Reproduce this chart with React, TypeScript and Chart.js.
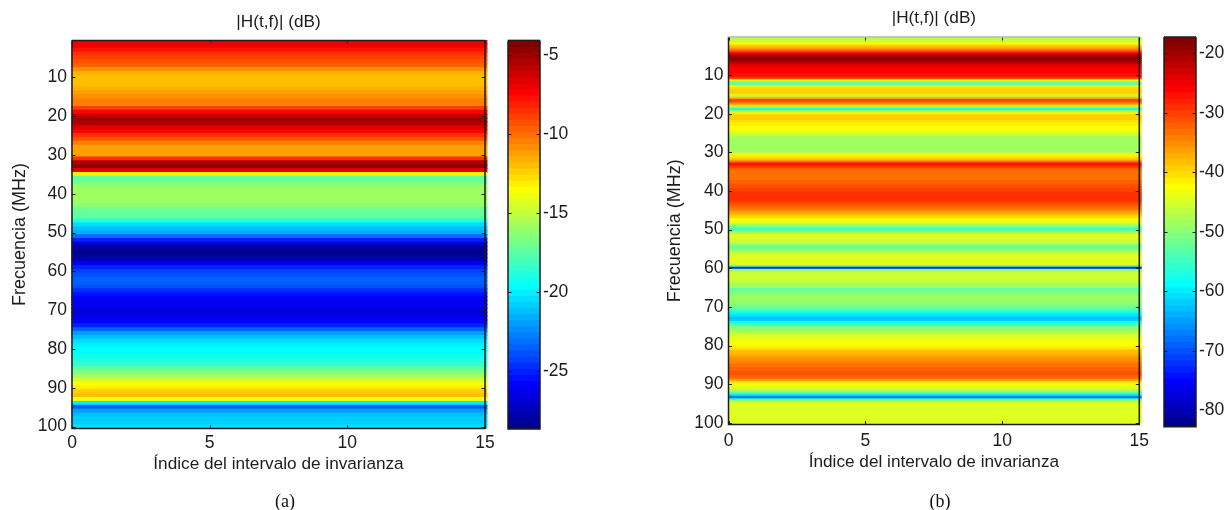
import React, { useEffect, useRef } from "react";
import { Chart, registerables } from "chart.js";

Chart.register(...registerables);

const TITLE = "|H(t,f)| (dB)";
const X_LABEL = "Índice del intervalo de invarianza";
const Y_LABEL = "Frecuencia (MHz)";
const FREQ_TICKS = [10, 20, 30, 40, 50, 60, 70, 80, 90, 100];
const TIME_TICKS = [0, 5, 10, 15];
const BAR_TICKS_A = [-25, -20, -15, -10, -5];
const BAR_TICKS_B = [-80, -70, -60, -50, -40, -30, -20];
const RANGE_A: [number, number] = [-28.67, -4.05];
const RANGE_B: [number, number] = [-82.7, -17.3];
const TIME_END = 15.07;

// panel (a): level in dB at 1, 2, ... 100 MHz
const levelsA = [
  -7, -7, -7.8, -8.6, -9, -9.3, -9.8, -10.6, -11.4, -12,
  -12.1, -11.9, -11.4, -11, -10.7, -10.5, -10.3, -9, -7.3, -5.8,
  -5.2, -5.4, -6.6, -7.5, -8.3, -9.4, -10.4, -11, -11, -11,
  -8.5, -5.5, -4.8, -6.5, -13, -17.5, -17, -16.3, -15.8, -15.6,
  -15.6, -15.8, -16.3, -16.9, -17.2, -17.5, -18.8, -20.5, -21, -21.7,
  -23, -25, -27, -28, -28.3, -28.2, -27.6, -26, -25, -24.2,
  -23.7, -23.4, -23.5, -23.9, -24.7, -25.3, -25.8, -26, -26.2, -26.4,
  -26.4, -26.2, -25.8, -25, -23.3, -22, -21, -20.4, -20, -19.7,
  -19.5, -19.3, -19, -18.4, -17.5, -16.5, -15.6, -14.6, -13.6, -13,
  -12.4, -12, -14, -20, -23.5, -22, -21, -20.7, -20.6, -20.5,
];

// panel (b): level in dB at 0.5, 1, 1.5, ... 100 MHz
const levelsB = [
  -47, -46, -44, -42, -39, -37, -34, -30, -26, -21,
  -19, -18.5, -19.5, -22, -24, -25, -25.5, -26, -26, -26.5,
  -27, -31, -42, -53, -52, -43, -40, -39, -39, -40,
  -46, -38, -30, -31, -35, -40, -50, -58, -47, -41,
  -39, -39, -39.5, -40, -41, -41.5, -42, -42.5, -43, -44,
  -45, -47, -48, -48, -48, -48, -48, -48, -48, -48,
  -43, -41, -40, -38, -33, -27, -28, -30, -32, -33,
  -33.5, -33.5, -33, -33, -32.5, -32, -31.5, -31, -30.5, -30,
  -29.5, -29.2, -29, -29.2, -29.5, -30, -31, -32, -33, -34,
  -36, -37.5, -39, -40, -42, -43, -45, -48, -52, -56,
  -52, -47, -44, -44, -44, -45, -46, -49, -53, -52,
  -48, -46, -45, -44.5, -44, -44, -44, -44.5, -53, -73,
  -50, -46, -45.5, -45, -45, -45.5, -46, -47, -48, -48.5,
  -53, -52, -50.5, -49, -48, -48.5, -49, -50, -51, -52,
  -53, -55, -58, -60, -61, -62.5, -62, -58, -55, -52,
  -50, -49, -47.5, -46, -44.5, -44, -43.5, -43, -42.5, -42,
  -41, -40, -38.5, -38, -37, -36, -35.5, -35, -34, -33.5,
  -33, -32.5, -32, -31.5, -31.5, -32, -33, -36, -40, -42,
  -43, -44, -46, -50, -56, -62, -68, -56, -47, -44,
  -44, -44, -44, -44, -44, -44, -44, -44, -44, -44,
];

const CANVAS_H = 510;
const INK = "#1c1c1c";
const FONT = "'Liberation Sans', Arial, sans-serif";
const TICK_SIZE = 17.5;
const LABEL_SIZE = 17.2;

// MATLAB jet(64) colour table
const JET: string[] = (() => {
  const ch = [new Array(64).fill(0), new Array(64).fill(0), new Array(64).fill(0)];
  for (let k = 1; k <= 47; k++) {
    const u = k <= 16 ? k / 16 : k <= 31 ? 1 : (48 - k) / 16;
    [24 + k, 8 + k, k - 8].forEach((idx, c) => {
      if (idx >= 1 && idx <= 64) ch[c][idx - 1] = u;
    });
  }
  return ch[0].map((_, i) => `rgb(${Math.round(ch[0][i] * 255)},${Math.round(ch[1][i] * 255)},${Math.round(ch[2][i] * 255)})`);
})();

const colorOf = (v: number, [lo, hi]: [number, number]) =>
  JET[Math.max(0, Math.min(63, Math.floor(((v - lo) / (hi - lo)) * 64)))];

const frame = (topColor: string) => ({
  id: "frame",
  afterDraw(chart: any) {
    const { ctx, chartArea: a, scales } = chart;
    const L = 3.5;
    ctx.save();
    ctx.strokeStyle = INK;
    ctx.lineWidth = 1;
    const yS = scales.y;
    yS.ticks.forEach((t: any) => {
      const p = Math.round(yS.getPixelForValue(t.value)) + 0.5;
      ctx.beginPath();
      ctx.moveTo(a.left, p); ctx.lineTo(a.left + L, p);
      ctx.moveTo(a.right, p); ctx.lineTo(a.right - L, p);
      ctx.stroke();
    });
    if (scales.x.options.display) {
      scales.x.ticks.forEach((t: any) => {
        const p = Math.round(scales.x.getPixelForValue(t.value)) + 0.5;
        ctx.beginPath();
        ctx.moveTo(p, a.bottom); ctx.lineTo(p, a.bottom - L);
        ctx.moveTo(p, a.top); ctx.lineTo(p, a.top + L);
        ctx.stroke();
      });
    }
    ctx.lineWidth = 1.5;
    ctx.beginPath();
    ctx.moveTo(a.left, a.top); ctx.lineTo(a.left, a.bottom); ctx.lineTo(a.right, a.bottom); ctx.lineTo(a.right, a.top);
    ctx.stroke();
    ctx.strokeStyle = topColor;
    ctx.beginPath();
    ctx.moveTo(a.left, a.top); ctx.lineTo(a.right, a.top);
    ctx.stroke();
    ctx.restore();
  },
});

function heatChart(canvas: HTMLCanvasElement, o: any) {
  const rows: number[] = o.levels.map((_: number, i: number) => o.first + i * o.step);
  return new Chart(canvas, {
    type: "bar",
    data: {
      datasets: [{
        data: rows.map((f) => ({ x: [0, TIME_END], y: f })) as any,
        backgroundColor: o.levels.map((v: number) => colorOf(v, o.range)),
        borderWidth: 0,
        inflateAmount: 0.5,
        barPercentage: 1,
        categoryPercentage: 1,
        clip: false,
      } as any],
    },
    plugins: [frame(o.topColor)],
    options: {
      indexAxis: "y",
      animation: false,
      responsive: false,
      layout: { padding: { left: 0, right: o.padRight, top: 0, bottom: 0 } },
      plugins: {
        legend: { display: false },
        tooltip: { enabled: false },
        title: {
          display: true,
          fullSize: false,
          text: TITLE,
          color: INK,
          font: { family: FONT, size: LABEL_SIZE, weight: "normal" },
          padding: { top: o.titleTop, bottom: o.titleBottom },
        },
      },
      scales: {
        x: {
          type: "linear",
          min: 0,
          max: 15,
          afterBuildTicks: (s: any) => { s.ticks = TIME_TICKS.map((value) => ({ value })); },
          afterFit: (s: any) => { s.height = CANVAS_H - o.bottom; },
          grid: { display: false, drawTicks: false },
          border: { display: false },
          ticks: { color: INK, font: { family: FONT, size: TICK_SIZE }, padding: o.tickPad, maxRotation: 0 },
          title: { display: true, text: X_LABEL, color: INK, font: { family: FONT, size: LABEL_SIZE }, padding: { top: 0, bottom: o.xTitleBottom } },
        },
        y: {
          type: "linear",
          reverse: true,
          offset: false,
          min: o.yMin,
          max: o.yMax,
          afterBuildTicks: (s: any) => { s.ticks = FREQ_TICKS.map((value) => ({ value })); },
          afterFit: (s: any) => { s.width = o.left; },
          grid: { display: false, drawTicks: false },
          border: { display: false },
          ticks: { color: INK, font: { family: FONT, size: TICK_SIZE }, padding: 5 },
          title: { display: true, text: Y_LABEL, color: INK, font: { family: FONT, size: 18 }, padding: { top: 9.5, bottom: 0 } },
        },
      },
    } as any,
  });
}

function barChart(canvas: HTMLCanvasElement, o: any) {
  const [lo, hi] = o.range as [number, number];
  const levels = JET.map((_, i) => lo + ((i + 0.5) / 64) * (hi - lo));
  return new Chart(canvas, {
    type: "bar",
    data: {
      datasets: [{
        data: levels.map((v) => ({ x: [0, 1], y: v })) as any,
        backgroundColor: JET,
        borderWidth: 0,
        inflateAmount: 0.5,
        barPercentage: 1,
        categoryPercentage: 1,
      } as any],
    },
    plugins: [frame(INK)],
    options: {
      indexAxis: "y",
      animation: false,
      responsive: false,
      layout: { padding: { left: o.padLeft, right: 0, top: o.top, bottom: CANVAS_H - o.bottom } },
      plugins: { legend: { display: false }, tooltip: { enabled: false } },
      scales: {
        x: { type: "linear", min: 0, max: 1, display: false },
        y: {
          type: "linear",
          position: "right",
          offset: false,
          min: lo,
          max: hi,
          afterBuildTicks: (s: any) => { s.ticks = o.ticks.map((value: number) => ({ value })); },
          afterFit: (s: any) => { s.width = o.axisWidth; },
          grid: { display: false, drawTicks: false },
          border: { display: false },
          ticks: { color: INK, font: { family: FONT, size: TICK_SIZE }, padding: 3 },
        },
      },
    } as any,
  });
}

const box = (left: number, width: number): React.CSSProperties => ({ position: "absolute", left, top: 0, width, height: CANVAS_H });
const caption = (left: number): React.CSSProperties => ({
  position: "absolute", left, top: 491, width: 40, height: 19, lineHeight: "21px", overflow: "hidden", textAlign: "center",
  fontFamily: "'Liberation Serif', serif", fontSize: 18, color: "#111",
});

export default function App() {
  const a = useRef<HTMLCanvasElement>(null);
  const ab = useRef<HTMLCanvasElement>(null);
  const b = useRef<HTMLCanvasElement>(null);
  const bb = useRef<HTMLCanvasElement>(null);
  useEffect(() => {
    const charts = [
      heatChart(a.current!, { levels: levelsA, first: 1, step: 1, range: RANGE_A, left: 72, padRight: 15, titleTop: 11.8, titleBottom: 8, bottom: 428.6, xTitleBottom: 35.7, topColor: INK, tickPad: 4, yMin: 0.5, yMax: 100.5 }),
      barChart(ab.current!, { range: RANGE_A, ticks: BAR_TICKS_A, padLeft: 8, top: 40.4, bottom: 429, axisWidth: 32 }),
      heatChart(b.current!, { levels: levelsB, first: 0.5, step: 0.5, range: RANGE_B, left: 73.5, padRight: 15, titleTop: 7.8, titleBottom: 8.6, bottom: 424.5, xTitleBottom: 37.5, topColor: "#b9b9b9", tickPad: 6, yMin: 0.17, yMax: 100.4 }),
      barChart(bb.current!, { range: RANGE_B, ticks: BAR_TICKS_B, padLeft: 9, top: 37, bottom: 426.7, axisWidth: 30 }),
    ];
    return () => charts.forEach((c) => c.destroy());
  }, []);
  return (
    <div>
      <canvas ref={a} width={500} height={CANVAS_H} style={box(0, 500)} />
      <canvas ref={ab} width={72} height={CANVAS_H} style={box(500, 72)} />
      <canvas ref={b} width={500} height={CANVAS_H} style={box(655, 500)} />
      <canvas ref={bb} width={71} height={CANVAS_H} style={box(1155, 71)} />
      <div style={caption(265)}>(a)</div>
      <div style={caption(920)}>(b)</div>
    </div>
  );
}
